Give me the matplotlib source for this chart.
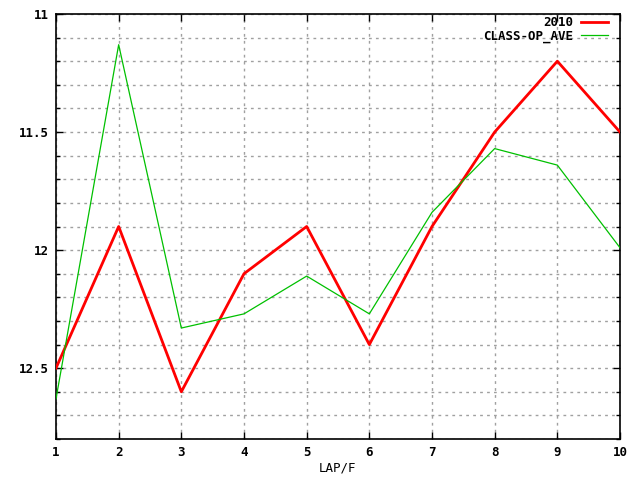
import matplotlib
matplotlib.use("Agg")
import matplotlib.pyplot as plt
import numpy as np

laps = [1, 2, 3, 4, 5, 6, 7, 8, 9, 10]
s2010 = [12.5, 11.9, 12.6, 12.1, 11.9, 12.4, 11.9, 11.5, 11.2, 11.5]
class_avg = [12.63, 11.13, 12.33, 12.27, 12.11, 12.27, 11.84, 11.57, 11.64, 11.99]
xlabel = "LAP/F"

plt.rcParams['font.family'] = ['DejaVu Sans Mono']
plt.rcParams['font.weight'] = 'bold'

fig = plt.figure(figsize=(6.4, 4.8), dpi=100)
ax = fig.add_axes([56/640, 1-439/480, (620-56)/640, (439-14)/480])

ax.plot(laps, s2010, color='#ff0000', lw=2.0, label='2010', zorder=3)
ax.plot(laps, class_avg, color='#00c000', lw=0.9, label='CLASS-OP_AVE', zorder=3)

ax.set_xlim(1, 10)
ax.set_ylim(12.8, 11.0)
ax.set_xticks(laps)
ax.set_xticklabels([str(v) for v in laps])
major = [11.0, 11.5, 12.0, 12.5]
ax.set_yticks(major)
ax.set_yticklabels(['11', '11.5', '12', '12.5'])
ax.set_yticks(np.round(np.arange(11.1, 12.8, 0.1), 2), minor=True)
ax.tick_params(which='both', direction='in', top=True, right=True, labelsize=9)
ax.tick_params(which='major', length=5, width=1)
ax.tick_params(which='minor', length=3, width=1)
ax.tick_params(axis='x', pad=5)
ax.tick_params(axis='y', pad=5)
ax.grid(True, which='both', color='#a0a0a0', linestyle=(0, (2, 3)), lw=1)
for sp in ax.spines.values():
    sp.set_linewidth(1.2)
ax.set_xlabel(xlabel, fontsize=9, labelpad=2)

ax.legend(loc='upper right', bbox_to_anchor=(608/640, 1-16.5/480),
          bbox_transform=fig.transFigure, markerfirst=False, frameon=False,
          fontsize=9, handlelength=2.2, borderaxespad=0, borderpad=0,
          labelspacing=0.0, handletextpad=0.6)
leg = ax.get_legend()
leg.set_zorder(10)
for t in leg.get_texts():
    t.set_ha('right')

fig.savefig('out.png', dpi=100)
